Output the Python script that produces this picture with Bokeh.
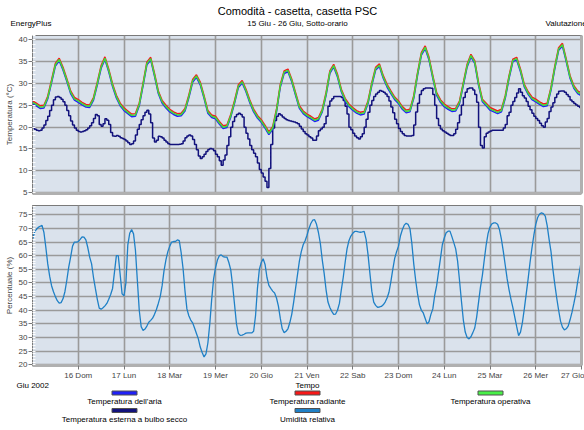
from bokeh.plotting import figure
from bokeh.models import Range1d, FixedTicker, SingleIntervalTicker, LinearAxis
from bokeh.layouts import column
from bokeh.embed import file_html
from bokeh.resources import INLINE
from bokeh.core.properties import value

# ---------------------------------------------------------------- data
TITLE = "Comodità - casetta, casetta PSC"
SUBTITLE = "15 Giu - 26 Giu, Sotto-orario"
LEFT_NOTE = "EnergyPlus"
RIGHT_NOTE = "Valutazione"
MONTH_NOTE = "Giu 2002"
X_TITLE = "Tempo"

# hours since 15 Jun 00:00; one tick per midnight
day_ticks = [24, 48, 72, 96, 120, 144, 168, 192, 216, 240, 264, 288]
day_labels = ["16 Dom", "17 Lun", "18 Mar", "19 Mer", "20 Gio", "21 Ven",
              "22 Sab", "23 Dom", "24 Lun", "25 Mar", "26 Mer", "27 Gio"]

# indoor temperatures, every 2 hours (h = 0, 2, ... 288)
indoor_hours = list(range(0, 289, 2))
air_temp = [
    25.4, 24.9, 24.3, 24.4, 26.5, 30.2, 34.0, 35.2, 33.1, 30.5, 27.7, 26.2,
    25.7, 25.1, 24.6, 24.5, 26.2, 29.7, 33.5, 35.5, 32.7, 29.3, 26.7, 24.9,
    23.8, 23.1, 22.4, 22.5, 24.9, 29.5, 34.3, 35.4, 31.7, 27.7, 25.5, 24.4,
    23.5, 22.9, 22.5, 22.6, 23.7, 26.7, 30.3, 31.4, 29.7, 26.6, 23.2, 22.2,
    21.9, 20.7, 19.7, 19.9, 22.3, 25.5, 29.1, 30.1, 28.1, 25.6, 23.5, 22.1,
    21.1, 19.8, 18.3, 19.5, 23.5, 29.2, 32.3, 32.7, 30.4, 27.3, 24.3, 23.1,
    22.4, 21.9, 21.3, 21.6, 23.5, 27.3, 32.3, 33.8, 31.5, 28.1, 26.0, 24.7,
    23.9, 23.2, 22.8, 23.0, 25.4, 29.6, 33.1, 33.9, 31.2, 29.2, 27.7, 26.3,
    25.4, 24.1, 23.3, 23.5, 26.6, 31.9, 36.5, 38.0, 35.4, 31.2, 27.3, 25.7,
    24.7, 24.1, 23.6, 23.7, 25.4, 29.6, 33.8, 36.1, 34.6, 29.6, 25.8, 24.9,
    23.9, 23.5, 23.1, 23.5, 26.6, 31.2, 35.0, 35.4, 32.7, 29.2, 27.5, 26.3,
    25.8, 25.2, 24.7, 24.9, 28.5, 33.4, 37.6, 38.6, 35.0, 31.2, 28.9, 27.7,
    27.2]
radiant_temp = [
    26.0, 25.5, 24.9, 25.0, 27.1, 30.8, 34.6, 35.8, 33.7, 31.1, 28.3, 26.8,
    26.3, 25.7, 25.2, 25.1, 26.8, 30.3, 34.1, 36.1, 33.3, 29.9, 27.3, 25.5,
    24.4, 23.7, 23.0, 23.1, 25.5, 30.1, 34.9, 36.0, 32.3, 28.3, 26.1, 25.0,
    24.1, 23.5, 23.1, 23.2, 24.3, 27.3, 30.9, 32.0, 30.3, 27.2, 23.8, 22.8,
    22.5, 21.3, 20.3, 20.5, 22.9, 26.1, 29.7, 30.7, 28.7, 26.2, 24.1, 22.7,
    21.7, 20.4, 18.9, 20.1, 24.1, 29.8, 32.9, 33.3, 31.0, 27.9, 24.9, 23.7,
    23.0, 22.5, 21.9, 22.2, 24.1, 27.9, 32.9, 34.4, 32.1, 28.7, 26.6, 25.3,
    24.5, 23.8, 23.4, 23.6, 26.0, 30.2, 33.7, 34.5, 31.8, 29.8, 28.3, 26.9,
    26.0, 24.7, 23.9, 24.1, 27.2, 32.5, 37.1, 38.6, 36.0, 31.8, 27.9, 26.3,
    25.3, 24.7, 24.2, 24.3, 26.0, 30.2, 34.4, 36.7, 35.2, 30.2, 26.4, 25.5,
    24.5, 24.1, 23.7, 24.1, 27.2, 31.8, 35.6, 36.0, 33.3, 29.8, 28.1, 26.9,
    26.4, 25.8, 25.3, 25.5, 29.1, 34.0, 38.2, 39.2, 35.6, 31.8, 29.5, 28.3,
    27.8]
operative_temp = [
    25.7, 25.2, 24.6, 24.7, 26.8, 30.5, 34.3, 35.5, 33.4, 30.8, 28.0, 26.5,
    26.0, 25.4, 24.9, 24.8, 26.5, 30.0, 33.8, 35.8, 33.0, 29.6, 27.0, 25.2,
    24.1, 23.4, 22.7, 22.8, 25.2, 29.8, 34.6, 35.7, 32.0, 28.0, 25.8, 24.7,
    23.8, 23.2, 22.8, 22.9, 24.0, 27.0, 30.6, 31.7, 30.0, 26.9, 23.5, 22.5,
    22.2, 21.0, 20.0, 20.2, 22.6, 25.8, 29.4, 30.4, 28.4, 25.9, 23.8, 22.4,
    21.4, 20.1, 18.6, 19.8, 23.8, 29.5, 32.6, 33.0, 30.7, 27.6, 24.6, 23.4,
    22.7, 22.2, 21.6, 21.9, 23.8, 27.6, 32.6, 34.1, 31.8, 28.4, 26.3, 25.0,
    24.2, 23.5, 23.1, 23.3, 25.7, 29.9, 33.4, 34.2, 31.5, 29.5, 28.0, 26.6,
    25.7, 24.4, 23.6, 23.8, 26.9, 32.2, 36.8, 38.3, 35.7, 31.5, 27.6, 26.0,
    25.0, 24.4, 23.9, 24.0, 25.7, 29.9, 34.1, 36.4, 34.9, 29.9, 26.1, 25.2,
    24.2, 23.8, 23.4, 23.8, 26.9, 31.5, 35.3, 35.7, 33.0, 29.5, 27.8, 26.6,
    26.1, 25.5, 25.0, 25.2, 28.8, 33.7, 37.9, 38.9, 35.3, 31.5, 29.2, 28.0,
    27.5]

# outdoor dry-bulb temperature and relative humidity, hourly (h = 0 ... 288)
hourly = list(range(0, 289))
outdoor_temp = [
    19.9, 19.5, 19.3, 19.2, 19.3, 19.8, 20.5, 21.5, 22.5, 23.8, 25.0, 26.3,
    26.9, 27.0, 26.8, 26.4, 25.8, 25.0, 23.8, 22.6, 21.4, 20.5, 19.8, 19.3,
    19.0, 18.9, 19.0, 19.2, 19.4, 19.8, 20.3, 21.0, 22.0, 22.9, 22.6, 20.6,
    20.2, 20.8, 21.9, 21.6, 20.6, 18.8, 18.0, 17.9, 18.1, 17.9, 17.6, 17.4,
    17.2, 16.8, 16.4, 16.0, 16.2, 16.8, 18.2, 19.5, 20.6, 21.7, 22.6, 23.4,
    23.9, 23.0, 21.0, 17.5, 16.6, 17.0, 17.9, 17.8, 17.5, 17.0, 16.6, 16.2,
    16.0, 16.0, 16.0, 16.0, 16.0, 16.1, 16.2, 16.8, 17.6, 18.0, 18.2, 18.0,
    17.2, 16.0, 14.8, 13.4, 12.8, 13.2, 13.8, 14.4, 14.9, 15.1, 15.0, 14.6,
    13.8, 13.2, 12.3, 11.3, 12.5, 13.6, 15.8, 17.8, 20.0, 21.3, 22.4, 22.9,
    23.2, 22.9, 22.3, 20.0, 18.6, 17.3, 15.8, 14.8, 14.0, 13.2, 11.8, 10.3,
    9.5, 8.6, 7.6, 6.2, 10.5, 16.0, 19.8, 21.5, 22.5, 23.1, 22.8, 22.3,
    22.0, 21.7, 21.5, 21.4, 21.3, 21.2, 21.0, 20.8, 20.2, 19.6, 19.0, 18.5,
    18.2, 17.8, 17.5, 17.0, 17.0, 18.0, 19.2, 19.6, 20.0, 20.8, 22.5, 24.8,
    26.0, 26.5, 27.0, 27.0, 27.0, 27.0, 26.8, 26.1, 24.8, 23.0, 20.0, 19.4,
    18.6, 18.0, 17.6, 17.3, 17.8, 18.5, 20.0, 21.8, 23.4, 25.0, 26.1, 27.0,
    27.6, 28.0, 28.4, 28.2, 28.0, 27.6, 27.0, 26.0, 24.6, 23.3, 21.8, 20.8,
    19.7, 19.0, 18.5, 18.1, 18.0, 18.0, 18.0, 18.1, 20.5, 23.5, 25.5, 27.5,
    28.4, 28.8, 29.0, 29.0, 29.0, 28.9, 27.5, 25.0, 22.0, 20.4, 19.6, 19.2,
    18.9, 18.6, 18.3, 18.1, 18.1, 18.5, 19.5, 21.0, 22.8, 25.0, 26.8, 28.0,
    28.8, 29.0, 29.0, 28.5, 27.5, 25.7, 20.0, 15.8, 15.2, 17.8, 18.6, 18.9,
    19.1, 19.3, 19.3, 19.3, 19.3, 19.3, 19.3, 19.8, 20.6, 22.6, 23.4, 25.0,
    25.9, 26.8, 27.8, 28.8, 28.0, 27.2, 26.7, 25.9, 24.8, 24.0, 23.2, 22.5,
    22.0, 21.5, 20.9, 20.3, 20.0, 21.2, 22.0, 23.6, 24.6, 25.6, 26.8, 27.6,
    28.2, 28.3, 28.3, 28.0, 27.5, 27.0, 26.2, 25.8, 25.4, 25.1, 24.8, 24.5,
    24.2]
rel_humidity = [
    65.8, 68.5, 69.6, 70.4, 70.8, 71.1, 68.5, 63.0, 57.0, 52.5, 49.0, 46.8,
    45.0, 43.5, 42.6, 42.8, 44.2, 46.8, 51.0, 55.8, 59.5, 63.5, 65.0, 65.0,
    65.2, 66.0, 66.9, 66.8, 65.8, 63.0, 59.5, 57.0, 52.0, 47.9, 44.0, 40.8,
    40.4, 40.9, 41.6, 42.5, 44.0, 45.8, 48.0, 54.0, 60.0, 60.0, 53.0, 46.0,
    45.3, 50.0, 64.0, 68.2, 69.6, 68.0, 62.0, 51.0, 40.0, 34.0, 32.6, 33.1,
    34.2, 35.6, 36.3, 37.1, 38.5, 40.3, 42.5, 45.0, 49.0, 54.5, 58.5, 61.5,
    63.5, 65.0, 65.2, 65.2, 65.8, 65.5, 61.0, 55.2, 47.0, 40.5, 38.0, 36.4,
    35.4, 33.5, 31.5, 29.5, 26.5, 24.5, 22.9, 24.0, 28.0, 35.0, 44.0, 51.5,
    55.5, 58.4, 60.0, 60.3, 59.7, 59.5, 59.5, 57.5, 54.8, 49.0, 42.0, 35.0,
    31.5, 30.8, 30.9, 31.2, 31.6, 31.7, 31.7, 31.7, 32.3, 38.0, 48.0, 55.0,
    57.5, 58.9, 56.8, 52.0, 49.1, 48.0, 47.0, 46.3, 44.5, 41.5, 37.0, 33.2,
    31.8, 32.3, 33.2, 35.5, 38.5, 43.0, 48.0, 53.0, 58.0, 61.5, 64.0, 65.5,
    67.5, 69.9, 71.8, 73.0, 73.2, 71.5, 68.5, 64.5, 58.5, 53.5, 47.5, 43.0,
    41.0, 39.6, 38.5, 38.6, 40.0, 42.5, 47.5, 52.0, 57.5, 62.5, 65.5, 67.2,
    68.2, 68.9, 68.9, 68.7, 68.6, 68.7, 68.9, 66.0, 60.5, 53.5, 47.0, 43.0,
    41.8, 41.1, 41.2, 41.4, 42.0, 43.0, 44.5, 46.6, 50.5, 55.0, 59.0, 61.5,
    63.5, 67.2, 69.5, 71.2, 71.9, 71.5, 70.0, 64.5, 57.0, 51.0, 46.0, 42.0,
    40.0, 39.0, 37.0, 35.0, 35.8, 38.5, 40.5, 45.5, 49.0, 54.0, 58.9, 64.0,
    66.5, 68.4, 69.0, 69.0, 67.0, 64.8, 62.5, 58.0, 51.0, 43.5, 36.5, 32.0,
    30.0, 29.5, 30.3, 31.8, 33.5, 37.5, 43.0, 48.5, 52.8, 58.5, 64.0, 68.2,
    70.5, 71.7, 72.0, 72.0, 71.5, 69.5, 66.0, 61.5, 56.5, 51.5, 47.5, 44.0,
    41.0, 37.5, 34.0, 30.7, 32.0, 35.5, 40.5, 46.0, 51.5, 57.5, 62.8, 67.5,
    71.5, 74.0, 75.3, 75.7, 75.4, 74.5, 71.0, 66.0, 61.5, 55.0, 49.5, 44.5,
    40.0, 36.0, 33.8, 32.8, 33.2, 34.2, 36.5, 39.2, 42.5, 46.0, 50.5, 54.5,
    58.5]

legend_names = ["Temperatura dell'aria", "Temperatura radiante", "Temperatura operativa",
                "Temperatura esterna a bulbo secco", "Umidità relativa"]

# ---------------------------------------------------------------- style
W = 584
FONT = "Liberation Sans"
BG = "#dae2ec"
GRID = "#9a9a9a"
FRAME = "#7a7a7a"
SHADOW = "#b0b0b0"
C_AIR = "#2020f8"
C_RAD = "#f81818"
C_OPER = "#3cdc3c"
C_OUT = "#12127c"
C_RH = "#1f80c6"
legend_colors = [C_AIR, C_RAD, "#48f048", C_OUT, C_RH]


def shade_axis():
    # tickless axis used as a drop shadow along a frame edge
    return LinearAxis(ticker=FixedTicker(ticks=[]), major_tick_out=0, major_tick_in=0,
                      minor_tick_out=0, minor_tick_in=0, major_label_standoff=0,
                      axis_line_width=3, axis_line_color=SHADOW)


def style_panel(p, y_label, y_interval):
    p.background_fill_color = BG
    p.border_fill_color = "white"
    p.outline_line_color = FRAME
    p.outline_line_width = 1

    ya = p.yaxis[0]
    ya.ticker = SingleIntervalTicker(interval=y_interval, num_minor_ticks=5)
    ya.axis_label = y_label
    ya.axis_label_text_font = FONT
    ya.axis_label_text_font_size = "8px"
    ya.axis_label_text_font_style = "normal"
    ya.axis_label_standoff = 2
    ya.major_label_text_font = FONT
    ya.major_label_text_font_size = "8px"
    ya.major_label_standoff = 1
    ya.axis_line_color = FRAME
    ya.major_tick_line_color = FRAME
    ya.major_tick_out = 4
    ya.major_tick_in = 0
    ya.minor_tick_line_color = "white"
    ya.minor_tick_in = 3
    ya.minor_tick_out = 0

    xa = p.xaxis[0]
    xa.axis_line_color = SHADOW
    xa.axis_line_width = 3
    xa.minor_tick_line_color = None

    p.xgrid.ticker = FixedTicker(ticks=day_ticks)
    p.xgrid.grid_line_color = GRID
    p.xgrid.grid_line_width = 1.6
    p.ygrid.grid_line_color = GRID
    p.ygrid.grid_line_width = 1.3

    p.add_layout(shade_axis(), "right")


def text_at(p, xs, ys, texts, size, align):
    p.text(x=xs, y=ys, text=texts, text_font=value(FONT), text_font_size=size,
           text_align=align, text_baseline="middle", text_color="black")


def blank_figure(height, top_px):
    # a plain drawing strip whose data units are page pixels
    f = figure(width=W, height=height, x_range=Range1d(0, W),
               y_range=Range1d(top_px + height, top_px),
               output_backend="svg", toolbar_location=None, min_border=0,
               x_axis_location=None, y_axis_location=None, frame_align=False)
    f.grid.visible = False
    f.outline_line_color = None
    return f


# ---------------------------------------------------------------- header
head = blank_figure(33, 0)
text_at(head, [297], [10], [TITLE], "11px", "center")
text_at(head, [297], [22.5], [SUBTITLE], "8px", "center")
text_at(head, [10], [22.5], [LEFT_NOTE], "8px", "left")
text_at(head, [545], [22.5], [RIGHT_NOTE], "8px", "left")

# ---------------------------------------------------------------- temperatures
top = figure(width=W, height=167, x_range=Range1d(0, 288), y_range=Range1d(4.8, 41.0),
             output_backend="svg", toolbar_location=None,
             min_border_left=32, min_border_right=3, min_border_top=2, min_border_bottom=7)
style_panel(top, "Temperatura (°C)", 5)
top.xaxis.ticker = FixedTicker(ticks=[])
top.xaxis.major_label_standoff = 0
top.xaxis.major_tick_out = 0
top.xaxis.major_tick_in = 0

top.step(hourly, outdoor_temp, mode="after", line_color=C_OUT, line_width=1.5)
top.line(indoor_hours, air_temp, line_color=C_AIR, line_width=1.5)
top.line(indoor_hours, radiant_temp, line_color=C_RAD, line_width=1.5)
top.line(indoor_hours, operative_temp, line_color=C_OPER, line_width=1.5)

# ---------------------------------------------------------------- humidity
bot = figure(width=W, height=182, x_range=Range1d(0, 288), y_range=Range1d(19.75, 78.4),
             output_backend="svg", toolbar_location=None,
             min_border_left=32, min_border_right=3, min_border_top=5, min_border_bottom=17)
style_panel(bot, "Percentuale (%)", 5)
xb = bot.xaxis[0]
xb.ticker = FixedTicker(ticks=day_ticks)
xb.major_label_overrides = {t: lab for t, lab in zip(day_ticks, day_labels)}
xb.major_label_text_font = FONT
xb.major_label_text_font_size = "8px"
xb.major_label_standoff = 1
xb.major_tick_out = 4
xb.major_tick_in = 0
xb.major_tick_line_color = FRAME

bot.line(hourly, rel_humidity, line_color=C_RH, line_width=1.3)

# ---------------------------------------------------------------- legend
leg = blank_figure(48, 382)
text_at(leg, [16], [385], [MONTH_NOTE], "8px", "left")
text_at(leg, [307], [385], [X_TITLE], "8px", "center")
col_x = [124, 307, 490, 124, 307]
swatch_y = [392.5, 392.5, 392.5, 410, 410]
label_y = [400.5, 400.5, 400.5, 418.5, 418.5]
leg.rect(x=col_x, y=swatch_y, width=25, height=4, fill_color=legend_colors,
         line_color="#505050", line_width=1)
text_at(leg, col_x, label_y, legend_names, "8px", "center")

page = column(head, top, bot, leg, spacing=0)
open("out.html", "w").write(file_html(page, INLINE))
